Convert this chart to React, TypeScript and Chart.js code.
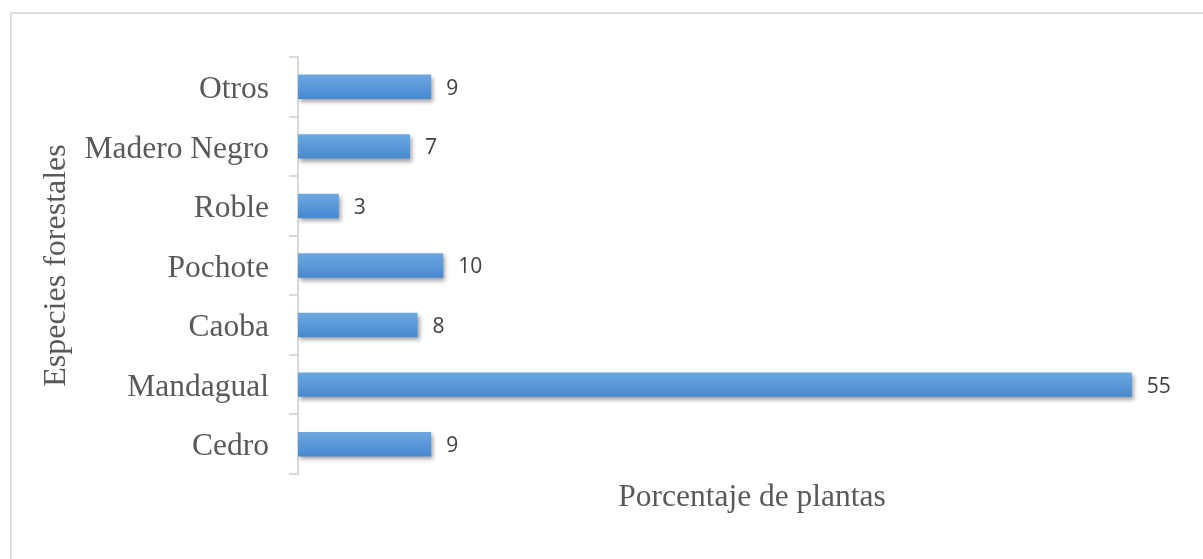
import React, { useEffect, useRef } from "react";
import { Chart, registerables } from "chart.js";

Chart.register(...registerables);

// Categories listed top to bottom as in the reference
const categories = ["Otros", "Madero Negro", "Roble", "Pochote", "Caoba", "Mandagual", "Cedro"];
const values = [8.8, 7.4, 2.7, 9.6, 7.9, 55.1, 8.8];
const valueLabels = ["9", "7", "3", "10", "8", "55", "9"];
const xAxisTitle = "Porcentaje de plantas";
const yAxisTitle = "Especies forestales";
const xMin = 0;
const xMax = 60;

export default function App() {
  const ref = useRef<HTMLCanvasElement>(null);

  useEffect(() => {
    const canvas = ref.current;
    if (!canvas) return;
    const serif = "'Liberation Serif', 'Times New Roman', serif";

    const barDecor = {
      id: "barDecor",
      beforeDatasetsDraw(chart: any) {
        const ctx = chart.ctx;
        ctx.save();
        ctx.shadowColor = "rgba(0,0,0,0.35)";
        ctx.shadowBlur = 4;
        ctx.shadowOffsetX = 2;
        ctx.shadowOffsetY = 3;
      },
      afterDatasetsDraw(chart: any) {
        const ctx = chart.ctx;
        ctx.restore();
        ctx.save();
        ctx.font = "21px 'Open Sans', 'DejaVu Sans', sans-serif";
        ctx.fillStyle = "#404040";
        ctx.textAlign = "left";
        ctx.textBaseline = "middle";
        chart.getDatasetMeta(0).data.forEach((bar: any, i: number) => {
          ctx.fillText(valueLabels[i], bar.x + 15, bar.y + 2);
        });
        ctx.restore();
      },
    };

    const chart = new Chart(canvas, {
      type: "bar",
      data: {
        labels: categories,
        datasets: [
          {
            data: values,
            backgroundColor: (c: any) => {
              const ch = c.chart;
              const y = ch.scales && ch.scales.y;
              if (!ch.chartArea || !y || c.dataIndex === undefined) return "#5b9bd5";
              const cy = y.getPixelForValue(c.dataIndex);
              const h = 12.5;
              const g = ch.ctx.createLinearGradient(0, cy - h, 0, cy + h);
              g.addColorStop(0, "#6ea8e0");
              g.addColorStop(1, "#4688cf");
              return g;
            },
            borderWidth: 0,
            barPercentage: 0.41,
            categoryPercentage: 1,
          },
        ],
      },
      options: {
        indexAxis: "y",
        responsive: false,
        maintainAspectRatio: false,
        animation: false,
        layout: { padding: { left: 0, top: 57, right: 2, bottom: 0 } },
        plugins: {
          legend: { display: false },
          tooltip: { enabled: false },
        },
        scales: {
          x: {
            min: xMin,
            max: xMax,
            ticks: { display: false },
            grid: { display: false },
            border: { display: false },
            title: {
              display: true,
              text: xAxisTitle,
              color: "#595959",
              font: { family: serif, size: 31.5 },
              padding: { top: 0, bottom: 42 },
            },
            afterFit: (s: any) => {
              s.height = 85;
            },
          },
          y: {
            grid: {
              display: true,
              drawOnChartArea: false,
              drawTicks: true,
              tickLength: 9,
              color: "#d9d9d9",
              lineWidth: 2,
              offset: true,
            },
            border: { display: true, color: "#d9d9d9", width: 2 },
            ticks: {
              color: "#595959",
              font: { family: serif, size: 31.5 },
              padding: 20,
              labelOffset: 3,
            },
            title: {
              display: true,
              text: yAxisTitle,
              color: "#595959",
              font: { family: serif, size: 32 },
              padding: { top: 37, bottom: 0 },
            },
            afterFit: (s: any) => {
              s.width = 298;
            },
          },
        },
      },
      plugins: [barDecor],
    } as any);

    return () => chart.destroy();
  }, []);

  return (
    <div
      style={{
        position: "fixed",
        left: 0,
        top: 0,
        width: 1203,
        height: 559,
        overflow: "hidden",
        background: "#ffffff",
      }}
    >
      <div
        style={{
          position: "absolute",
          left: 10,
          top: 12,
          width: 1193,
          height: 547,
          borderTop: "2px solid #dcdcdc",
          borderLeft: "2px solid #dcdcdc",
          boxSizing: "border-box",
        }}
      />
      <canvas
        ref={ref}
        width={1208}
        height={559}
        style={{ position: "absolute", left: 0, top: 0, width: 1208, height: 559 }}
      />
    </div>
  );
}
